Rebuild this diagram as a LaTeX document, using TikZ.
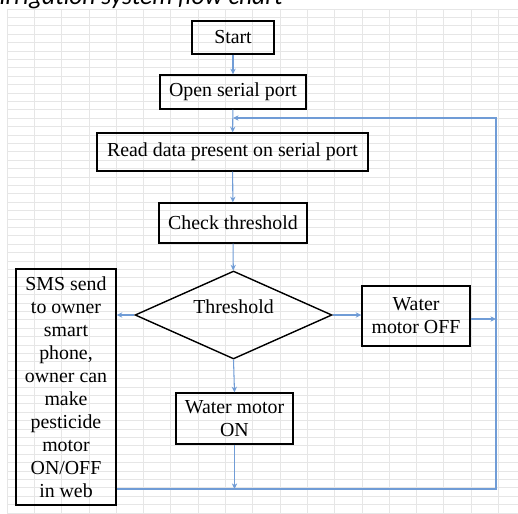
\documentclass[tikz,border=0pt]{standalone}
\usepackage{fontspec}
\setmainfont{Liberation Serif}
\newfontfamily\titlefont{Carlito}
\usepackage{tikz}
\usetikzlibrary{positioning, calc, shapes.geometric, arrows.meta}
\definecolor{flowblue}{RGB}{112,156,214}
\definecolor{sheetgrid}{RGB}{230,230,230}
\tikzset{box/.style = {draw,thick,inner sep=0pt,align=center,font=\fontsize{11.3}{13.1}\selectfont},
         decision/.style = {diamond,draw,thick,inner sep=0pt,aspect=2.24},
         flow/.style = {draw=flowblue,line width=0.6pt,-{Stealth[length=3.2pt,width=3pt]}},
         gridline/.style = {draw=sheetgrid,line width=0.45pt}}

\begin{document}
\begin{tikzpicture}[x=0.02cm,y=-0.02cm]
                    \useasboundingbox (0,0) rectangle (518,514);
                    \fill[white] (0,0) rectangle (518,514);

                    % spreadsheet cells
                    \foreach \r in {0,...,60}
                        \draw[gridline] (7,9+8.4*\r) -- (518,9+8.4*\r);
                    \foreach \c in {0,...,18}
                        \draw[gridline] (7+27.3*\c,9) -- (7+27.3*\c,514);

                    \node [anchor=base east,inner sep=0pt,font=\titlefont\itshape\fontsize{14.5}{17}\selectfont] (title) at (283,4.5) {Irrigation system flow chart};

                    \node [box,minimum width=1.64cm,minimum height=0.66cm] (start) at (233,37.5) {Start};
                    \node [box,minimum width=2.92cm,minimum height=0.68cm] (open) at (233,92) {Open serial port};
                    \node [box,minimum width=5.42cm,minimum height=0.76cm] (read) at (232.5,152) {Read data present on serial port};
                    \node [box,minimum width=2.96cm,minimum height=0.80cm] (check) at (233,223) {Check threshold};
                    \node [decision,minimum width=3.94cm,minimum height=1.76cm] (thr) at (233.5,315) {};
                    \node [box,draw=none] (thrtext) at (233.5,307) {Threshold};
                    \node [box,minimum width=2.00cm,minimum height=4.72cm] (sms) at (66,387)
                        {SMS send\\to owner\\smart\\phone,\\owner can\\make\\pesticide\\motor\\ON/OFF\\in web};
                    \node [box,minimum width=2.16cm,minimum height=1.20cm] (off) at (416,316) {Water\\motor OFF};
                    \node [box,minimum width=2.34cm,minimum height=1.02cm] (on) at (234.5,418.5) {Water motor\\ON};

                    \coordinate (br) at (496,489);
                    \coordinate (tr) at (496,118);
                    \coordinate (tl) at (233,118);

                    \draw[flow] (start) to (open);
                    \draw[flow] (open) to (read);
                    \draw[flow] (read) to (check);
                    \draw[flow] (check) to (thr);
                    \draw[flow] (thr.west) to (sms.east |- thr.west);
                    \draw[flow] (thr.east) to (off.west |- thr.east);
                    \draw[flow] (thr.south) to (on.north);
                    \draw[flow] ([yshift=-0.06cm]off.east) to ([yshift=-0.06cm]off.east -| br);
                    \draw[flow] (on.south) to (on.south |- br);
                    \draw[flow] (sms.east |- br) -- (br) -- (tr) -- (tl);
                \end{tikzpicture}
\end{document}
